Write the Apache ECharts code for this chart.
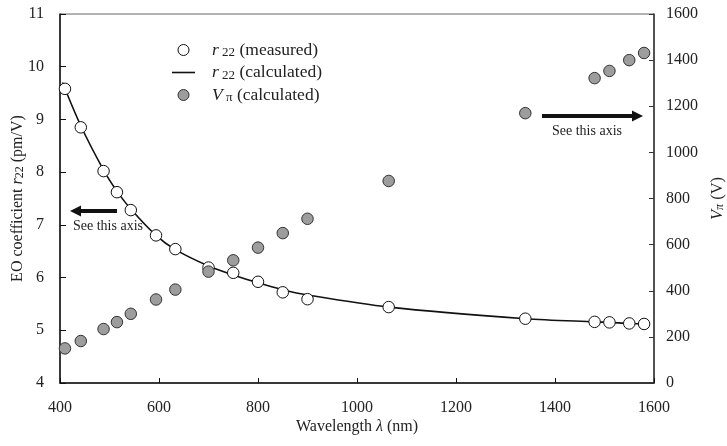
<!DOCTYPE html>
<html>
<head>
<meta charset="utf-8">
<script src="https://cdn.jsdelivr.net/npm/echarts@6/dist/echarts.min.js"></script>
<style>html,body{margin:0;padding:0;background:#fff}#c{width:727px;height:446px}</style>
</head>
<body>
<div id="c"></div>
<script>
// Data
const wavelengths = [410, 442, 488, 515, 543, 594, 633, 700, 750, 800, 850, 900, 1064, 1340, 1480, 1510, 1550, 1580];
const r22Measured = [9.58, 8.85, 8.02, 7.62, 7.28, 6.80, 6.54, 6.19, 6.09, 5.92, 5.72, 5.59, 5.44, 5.22, 5.16, 5.15, 5.13, 5.12];
const vpiCalculated = [150, 182, 234, 264, 300, 362, 405, 483, 532, 587, 650, 712, 876, 1170, 1322, 1353, 1400, 1431];
const calcWavelengths = [405, 442, 488, 515, 543, 594, 633, 700, 750, 800, 850, 900, 1064, 1340, 1480, 1510, 1550, 1590];
const r22Calculated = [9.70, 8.88, 8.04, 7.64, 7.30, 6.80, 6.53, 6.22, 6.05, 5.90, 5.77, 5.67, 5.44, 5.22, 5.16, 5.15, 5.13, 5.12];
const xTicks = {min: 400, max: 1600, interval: 200};
const leftTicks = {min: 4, max: 11, interval: 1};
const rightTicks = {min: 0, max: 1600, interval: 200};

const FONT = 'Liberation Serif';
const zip = (a, b) => a.map((v, i) => [v, b[i]]);
const plain = v => String(v);

const chart = echarts.init(document.getElementById('c'), null, {renderer: 'canvas'});
const labelStyle = {fontFamily: FONT, fontSize: 16, color: '#222', formatter: plain};

chart.setOption({
  animation: false,
  backgroundColor: '#fff',
  grid: {left: 60, right: 73, top: 14, bottom: 63, containLabel: false, outerBoundsMode: 'none',
         show: true, borderColor: '#666', borderWidth: 1, backgroundColor: 'transparent'},
  legend: {
    orient: 'vertical',
    left: 167, top: 36,
    itemWidth: 23, itemHeight: 11, itemGap: 4,
    textStyle: {fontFamily: FONT, fontSize: 17.5, color: '#222',
      rich: {
        g: {width: 12},
        i: {fontFamily: FONT, fontSize: 17.5, fontStyle: 'italic', color: '#222'},
        s: {fontFamily: FONT, fontSize: 13, color: '#222', verticalAlign: 'bottom', padding: [6, 0, 0, 0]},
        t: {fontFamily: FONT, fontSize: 17.5, color: '#222'}
      }
    },
    data: [
      {name: 'r22m', icon: 'circle', itemStyle: {color: '#fff', borderColor: '#111', borderWidth: 1}},
      {name: 'r22c', icon: 'path://M0,0 L23,0 L23,1.6 L0,1.6 Z', itemStyle: {color: '#111', borderWidth: 0}},
      {name: 'vpi', icon: 'circle', itemStyle: {color: '#9d9d9d', borderColor: '#333', borderWidth: 1}}
    ],
    formatter: function (n) {
      if (n === 'r22m') return '{g|}{i|r}{s| 22}{t| (measured)}';
      if (n === 'r22c') return '{g|}{i|r}{s| 22}{t| (calculated)}';
      return '{g|}{i|V}{s| π}{t| (calculated)}';
    }
  },
  xAxis: {
    type: 'value', min: xTicks.min, max: xTicks.max, interval: xTicks.interval,
    name: 'Wavelength {i|λ} (nm)', nameLocation: 'middle', nameGap: 36, nameMoveOverlap: false,
    nameTextStyle: {fontFamily: FONT, fontSize: 16, color: '#222', rich: {i: {fontFamily: FONT, fontSize: 16, fontStyle: 'italic', color: '#222'}}},
    axisLine: {lineStyle: {color: '#111', width: 1.5}},
    axisTick: {inside: true, length: 5, lineStyle: {color: '#111'}},
    axisLabel: Object.assign({margin: 17}, labelStyle),
    splitLine: {show: false}
  },
  yAxis: [{
    type: 'value', min: leftTicks.min, max: leftTicks.max, interval: leftTicks.interval,
    position: 'left',
    name: 'EO coefficient {i|r}{s|22} (pm/V)', nameLocation: 'middle', nameGap: 34, nameMoveOverlap: false,
    nameTextStyle: {fontFamily: FONT, fontSize: 16, color: '#222',
      rich: {i: {fontFamily: FONT, fontSize: 16, fontStyle: 'italic', color: '#222'},
             s: {fontFamily: FONT, fontSize: 12, color: '#222', verticalAlign: 'bottom', padding: [5, 0, 0, 0]}}},
    axisLine: {show: true, lineStyle: {color: '#111', width: 1.5}},
    axisTick: {inside: true, length: 6, lineStyle: {color: '#111'}},
    axisLabel: Object.assign({margin: 16}, labelStyle),
    splitLine: {show: false}
  }, {
    type: 'value', min: rightTicks.min, max: rightTicks.max, interval: rightTicks.interval,
    position: 'right',
    name: '{i|V}{s|π} (V)', nameLocation: 'middle', nameGap: 55,
    nameTextStyle: {fontFamily: FONT, fontSize: 16.5, color: '#222',
      rich: {i: {fontFamily: FONT, fontSize: 16.5, fontStyle: 'italic', color: '#222'},
             s: {fontFamily: FONT, fontSize: 12, fontStyle: 'italic', color: '#222', verticalAlign: 'bottom', padding: [5, 0, 0, 0]}}},
    axisLine: {show: true, lineStyle: {color: '#333', width: 1.5}},
    axisTick: {inside: true, length: 5, lineStyle: {color: '#333'}},
    axisLabel: Object.assign({margin: 12}, labelStyle),
    splitLine: {show: false}
  }],
  series: [
    {
      name: 'r22c', type: 'line', yAxisIndex: 0, smooth: 0.3, showSymbol: false, symbol: 'none',
      data: zip(calcWavelengths, r22Calculated),
      lineStyle: {color: '#111', width: 1.6}, itemStyle: {color: '#111'}, z: 2
    },
    {
      name: 'r22m', type: 'scatter', yAxisIndex: 0, symbol: 'circle', symbolSize: 11.5,
      data: zip(wavelengths, r22Measured),
      itemStyle: {color: '#fff', borderColor: '#111', borderWidth: 1, opacity: 1}, z: 3
    },
    {
      name: 'vpi', type: 'scatter', yAxisIndex: 1, symbol: 'circle', symbolSize: 11.5,
      data: zip(wavelengths, vpiCalculated),
      itemStyle: {color: '#9d9d9d', borderColor: '#333', borderWidth: 1, opacity: 1}, z: 3
    }
  ],
  graphic: [
    {type: 'line', shape: {x1: 117, y1: 211, x2: 80, y2: 211}, style: {stroke: '#111', lineWidth: 4}},
    {type: 'polygon', shape: {points: [[70, 211], [81, 205.5], [81, 216.5]]}, style: {fill: '#111'}},
    {type: 'text', left: 73, top: 219, style: {text: 'See this axis', fontFamily: FONT, fontSize: 14, fill: '#222'}},
    {type: 'line', shape: {x1: 542, y1: 116, x2: 632, y2: 116}, style: {stroke: '#111', lineWidth: 4}},
    {type: 'polygon', shape: {points: [[643, 116], [632, 110.5], [632, 121.5]]}, style: {fill: '#111'}},
    {type: 'text', left: 552, top: 124, style: {text: 'See this axis', fontFamily: FONT, fontSize: 14, fill: '#222'}}
  ]
});
</script>
</body>
</html>
